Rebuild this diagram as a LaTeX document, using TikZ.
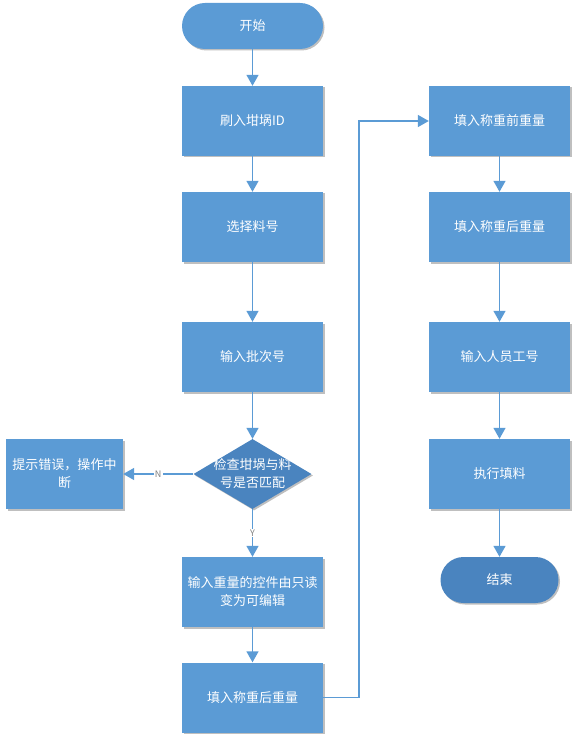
\documentclass[tikz,border=0pt]{standalone}
\usepackage{fontspec}
\setmainfont{Noto Sans CJK SC}
\usetikzlibrary{arrows.meta,shadows,shapes.geometric}
\definecolor{boxblue}{HTML}{5B9BD5}
\definecolor{darkblue}{HTML}{4A84BF}
\definecolor{lineblue}{HTML}{5B9BD5}
\begin{document}
\begin{tikzpicture}[x=1pt,y=-1pt,
  base/.style={fill=boxblue,draw=none,text=white,font=\fontsize{13pt}{18pt}\selectfont,align=center,
    drop shadow={shadow xshift=1.5pt,shadow yshift=-1.5pt,opacity=0.25,fill=black}},
  procbox/.style={base,minimum width=141pt,minimum height=70pt,inner sep=1pt},
  termbox/.style={base,rounded corners=23pt,minimum height=46pt},
  decbox/.style={base,fill=darkblue,diamond,minimum width=118pt,minimum height=70pt,aspect=1.7,inner sep=0pt},
  conn/.style={draw=lineblue,line width=1.5pt,-{Triangle[width=12pt,length=11pt]}},
  lab/.style={fill=white,inner sep=1pt,text=gray,font=\fontsize{9pt}{10pt}\selectfont}
]
\useasboundingbox (0,0) rectangle (577,743);
\node[termbox,minimum width=141pt] (start) at (252.5,26) {开始};
\node[procbox] (n1) at (252.5,121) {刷入坩埚ID};
\node[procbox] (n2) at (252.5,227) {选择料号};
\node[procbox] (n3) at (252.5,357) {输入批次号};
\node[decbox] (dec) at (252.5,474) {};
\node[text=white,font=\fontsize{13pt}{18pt}\selectfont,align=center] (dect) at (252.5,474) {检查坩埚与料\\号是否匹配};
\node[procbox,minimum width=117pt] (err) at (64.5,474) {提示错误，操作中\\断};
\node[procbox] (n4) at (252.5,592) {输入重量的控件由只读\\变为可编辑};
\node[procbox] (n5) at (252.5,697.5) {填入称重后重量};
\node[procbox] (r1) at (499.5,121) {填入称重前重量};
\node[procbox] (r2) at (499.5,227) {填入称重后重量};
\node[procbox] (r3) at (499.5,357) {输入人员工号};
\node[procbox] (r4) at (499.5,474) {执行填料};
\node[termbox,fill=darkblue,minimum width=118pt] (end) at (499.5,580) {结束};
\coordinate (bend) at (359,697.5);

\draw[conn] (start) -- (n1);
\draw[conn] (n1) -- (n2);
\draw[conn] (n2) -- (n3);
\draw[conn] (n3) -- (dec.north);
\draw[conn] (dec.west) -- node[lab]{N} (err.east);
\draw[conn] (dec.south) -- node[lab]{Y} (n4.north);
\draw[conn] (n4) -- (n5);
\draw[conn] (n5.east) -- (bend) |- (r1.west);
\draw[conn] (r1) -- (r2);
\draw[conn] (r2) -- (r3);
\draw[conn] (r3) -- (r4);
\draw[conn] (r4) -- (end);
\end{tikzpicture}
\end{document}
